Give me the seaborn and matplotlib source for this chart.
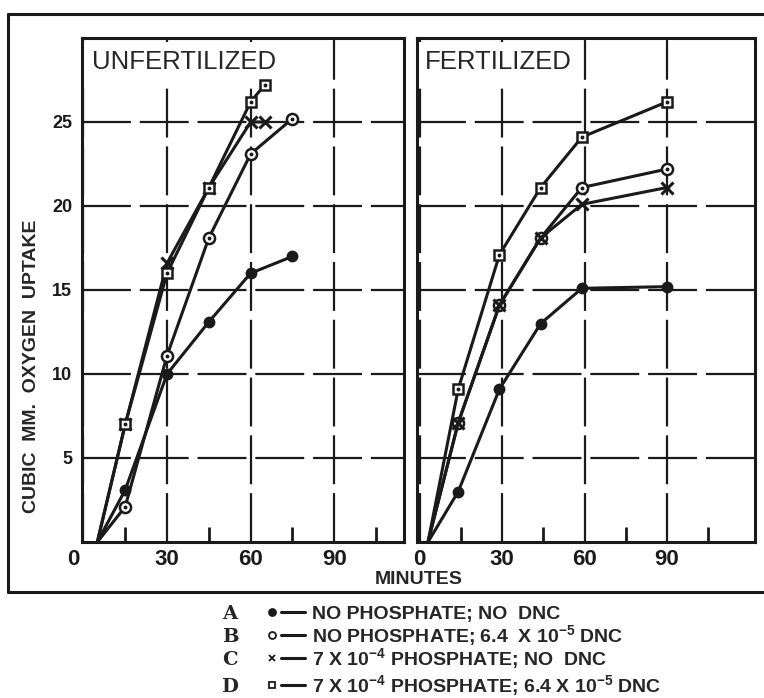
import pandas as pd
import seaborn as sns
import matplotlib.pyplot as plt
from matplotlib.lines import Line2D
from matplotlib import transforms

# minutes vs cubic mm oxygen uptake
unfert_min_ab = [5, 15, 30, 45, 60, 75]
unfert_min_cd = [5, 15, 30, 45, 60, 65]
unfert_A = [0, 3.1, 10.0, 13.1, 16.0, 17.0]
unfert_B = [0, 2.1, 11.1, 18.1, 23.1, 25.2]
unfert_C = [0, 7.0, 16.6, 21.1, 25.0, 25.0]
unfert_D = [0, 7.0, 16.0, 21.1, 26.2, 27.2]

fert_min = [3, 14, 29, 44, 59, 90]
fert_A = [0, 3.0, 9.1, 13.0, 15.1, 15.2]
fert_B = [0, 7.1, 14.1, 18.1, 21.1, 22.2]
fert_C = [0, 7.1, 14.1, 18.1, 20.1, 21.1]
fert_D = [0, 9.1, 17.1, 21.1, 24.1, 26.2]

series = ['A', 'B', 'C', 'D']
legend_text = [
    'NO PHOSPHATE; NO  DNC',
    'NO PHOSPHATE; 6.4  X 10$^{-5}$ DNC',
    '7 X 10$^{-4}$ PHOSPHATE; NO  DNC',
    '7 X 10$^{-4}$ PHOSPHATE; 6.4 X 10$^{-5}$ DNC',
]

# long table for seaborn
rows = []
for s, xs, ys in [('A', unfert_min_ab, unfert_A), ('B', unfert_min_ab, unfert_B),
                  ('C', unfert_min_cd, unfert_C), ('D', unfert_min_cd, unfert_D)]:
    for x, y in zip(xs, ys):
        rows.append(('UNFERTILIZED', s, x, y))
for s, ys in [('A', fert_A), ('B', fert_B), ('C', fert_C), ('D', fert_D)]:
    for x, y in zip(fert_min, ys):
        rows.append(('FERTILIZED', s, x, y))
df = pd.DataFrame(rows, columns=['panel', 'series', 'minutes', 'uptake'])

sns.set_theme(style='white')
plt.rcParams['font.family'] = ['Liberation Sans', 'DejaVu Sans']
plt.rcParams['mathtext.fontset'] = 'custom'
plt.rcParams['mathtext.rm'] = 'Liberation Sans:bold'
plt.rcParams['mathtext.default'] = 'rm'

styles = {
    'A': dict(marker='o', ms=7, mfc='k', mew=1.5, dot=False),
    'B': dict(marker='o', ms=8, mfc='white', mew=1.8, dot=True),
    'C': dict(marker='x', ms=8, mfc='k', mew=2.2, dot=False),
    'D': dict(marker='s', ms=7, mfc='white', mew=1.8, dot=True),
}

W, H = 764, 698
fig = plt.figure(figsize=(W / 100, H / 100), dpi=100)


def fx(px):
    return px / W


def fy(py):
    return 1 - py / H


ax1 = fig.add_axes([fx(82), fy(542), (404 - 82) / W, (542 - 38) / H])
ax2 = fig.add_axes([fx(417), fy(542), (755 - 417) / W, (542 - 38) / H])

for ax, panel, xlim in [(ax1, 'UNFERTILIZED', (-0.5, 115)), (ax2, 'FERTILIZED', (-1, 122))]:
    sub = df[df.panel == panel]
    for s in series:
        d = sub[sub.series == s]
        st = styles[s]
        sns.lineplot(data=d, x='minutes', y='uptake', ax=ax, color='k', lw=2.2,
                     marker=st['marker'], ms=st['ms'], mfc=st['mfc'], mec='k',
                     mew=st['mew'], markevery=list(range(1, len(d))),
                     estimator=None, sort=False, zorder=3)
        if st['dot']:
            ax.plot(d.minutes.iloc[1:], d.uptake.iloc[1:], ls='', marker='o',
                    ms=1.8, color='k', zorder=4)
    ax.set_xlim(*xlim)
    ax.set_ylim(0, 30)
    ax.set_xlabel('')
    ax.set_ylabel('')
    ax.set_xticks([0, 30, 60, 90])
    ax.set_xticklabels(['0', '30', '60', '90'], fontsize=16, fontweight='bold')
    ax.set_yticks([5, 10, 15, 20, 25])
    ax.set_yticklabels(['5', '10', '15', '20', '25'], fontsize=13, fontweight='bold')
    ax.set_xticks([15, 45, 75, 105], minor=True)
    ax.tick_params(axis='both', which='major', length=0, colors='k')
    ax.tick_params(axis='x', which='major', pad=5)
    ax.tick_params(axis='y', which='major', pad=7)
    ax.tick_params(axis='x', which='minor', bottom=True, direction='in',
                   length=11, width=2, color='k')
    ax.grid(True, which='major', color='k', lw=1.6, ls=(0, (22, 4)))
    for sp in ax.spines.values():
        sp.set_linewidth(2.2)
        sp.set_color('k')
    # title box hides the grid but sits under the curves
    ax.text(0.03 if ax is ax1 else 0.024, 0.952, panel, transform=ax.transAxes,
            fontsize=18.5, va='center', ha='left', zorder=2.5,
            bbox=dict(facecolor='white', edgecolor='none', pad=6))

ax2.set_yticklabels([])

# left panel "0" sits a little left of the corner
lbl = ax1.get_xticklabels()[0]
lbl.set_transform(lbl.get_transform() + transforms.ScaledTranslation(-0.1, 0, fig.dpi_scale_trans))

fig.text(fx(32), fy(366), 'CUBIC  MM.  OXYGEN  UPTAKE', rotation=90, ha='center',
         va='center', fontsize=14, fontweight='bold')
fig.text(fx(419), fy(580), 'MINUTES', ha='center', va='center', fontsize=14,
         fontweight='bold')

# outer frame
for xs, ys in [([8, 8], [14, 592]), ([8, 764], [14, 14]), ([8, 764], [592, 592])]:
    fig.add_artist(Line2D([fx(v) for v in xs], [fy(v) for v in ys],
                          transform=fig.transFigure, color='k', lw=2.2))

# legend block
baselines = [619, 642, 665, 692]
for s, txt, base in zip(series, legend_text, baselines):
    st = styles[s]
    mid = base - 7
    fig.text(fx(230), fy(base), s, ha='center', va='baseline', fontsize=14,
             fontweight='bold', family='DejaVu Serif')
    fig.add_artist(Line2D([fx(272)], [fy(mid)], transform=fig.transFigure,
                          marker=st['marker'], ms=5, mfc=st['mfc'], mec='k',
                          mew=1.3, color='k', ls=''))
    fig.add_artist(Line2D([fx(281), fx(305)], [fy(mid), fy(mid)],
                          transform=fig.transFigure, color='k', lw=2.2))
    fig.text(fx(312), fy(base), txt, ha='left', va='baseline', fontsize=14,
             fontweight='bold')

fig.savefig('out.png', dpi=100)
